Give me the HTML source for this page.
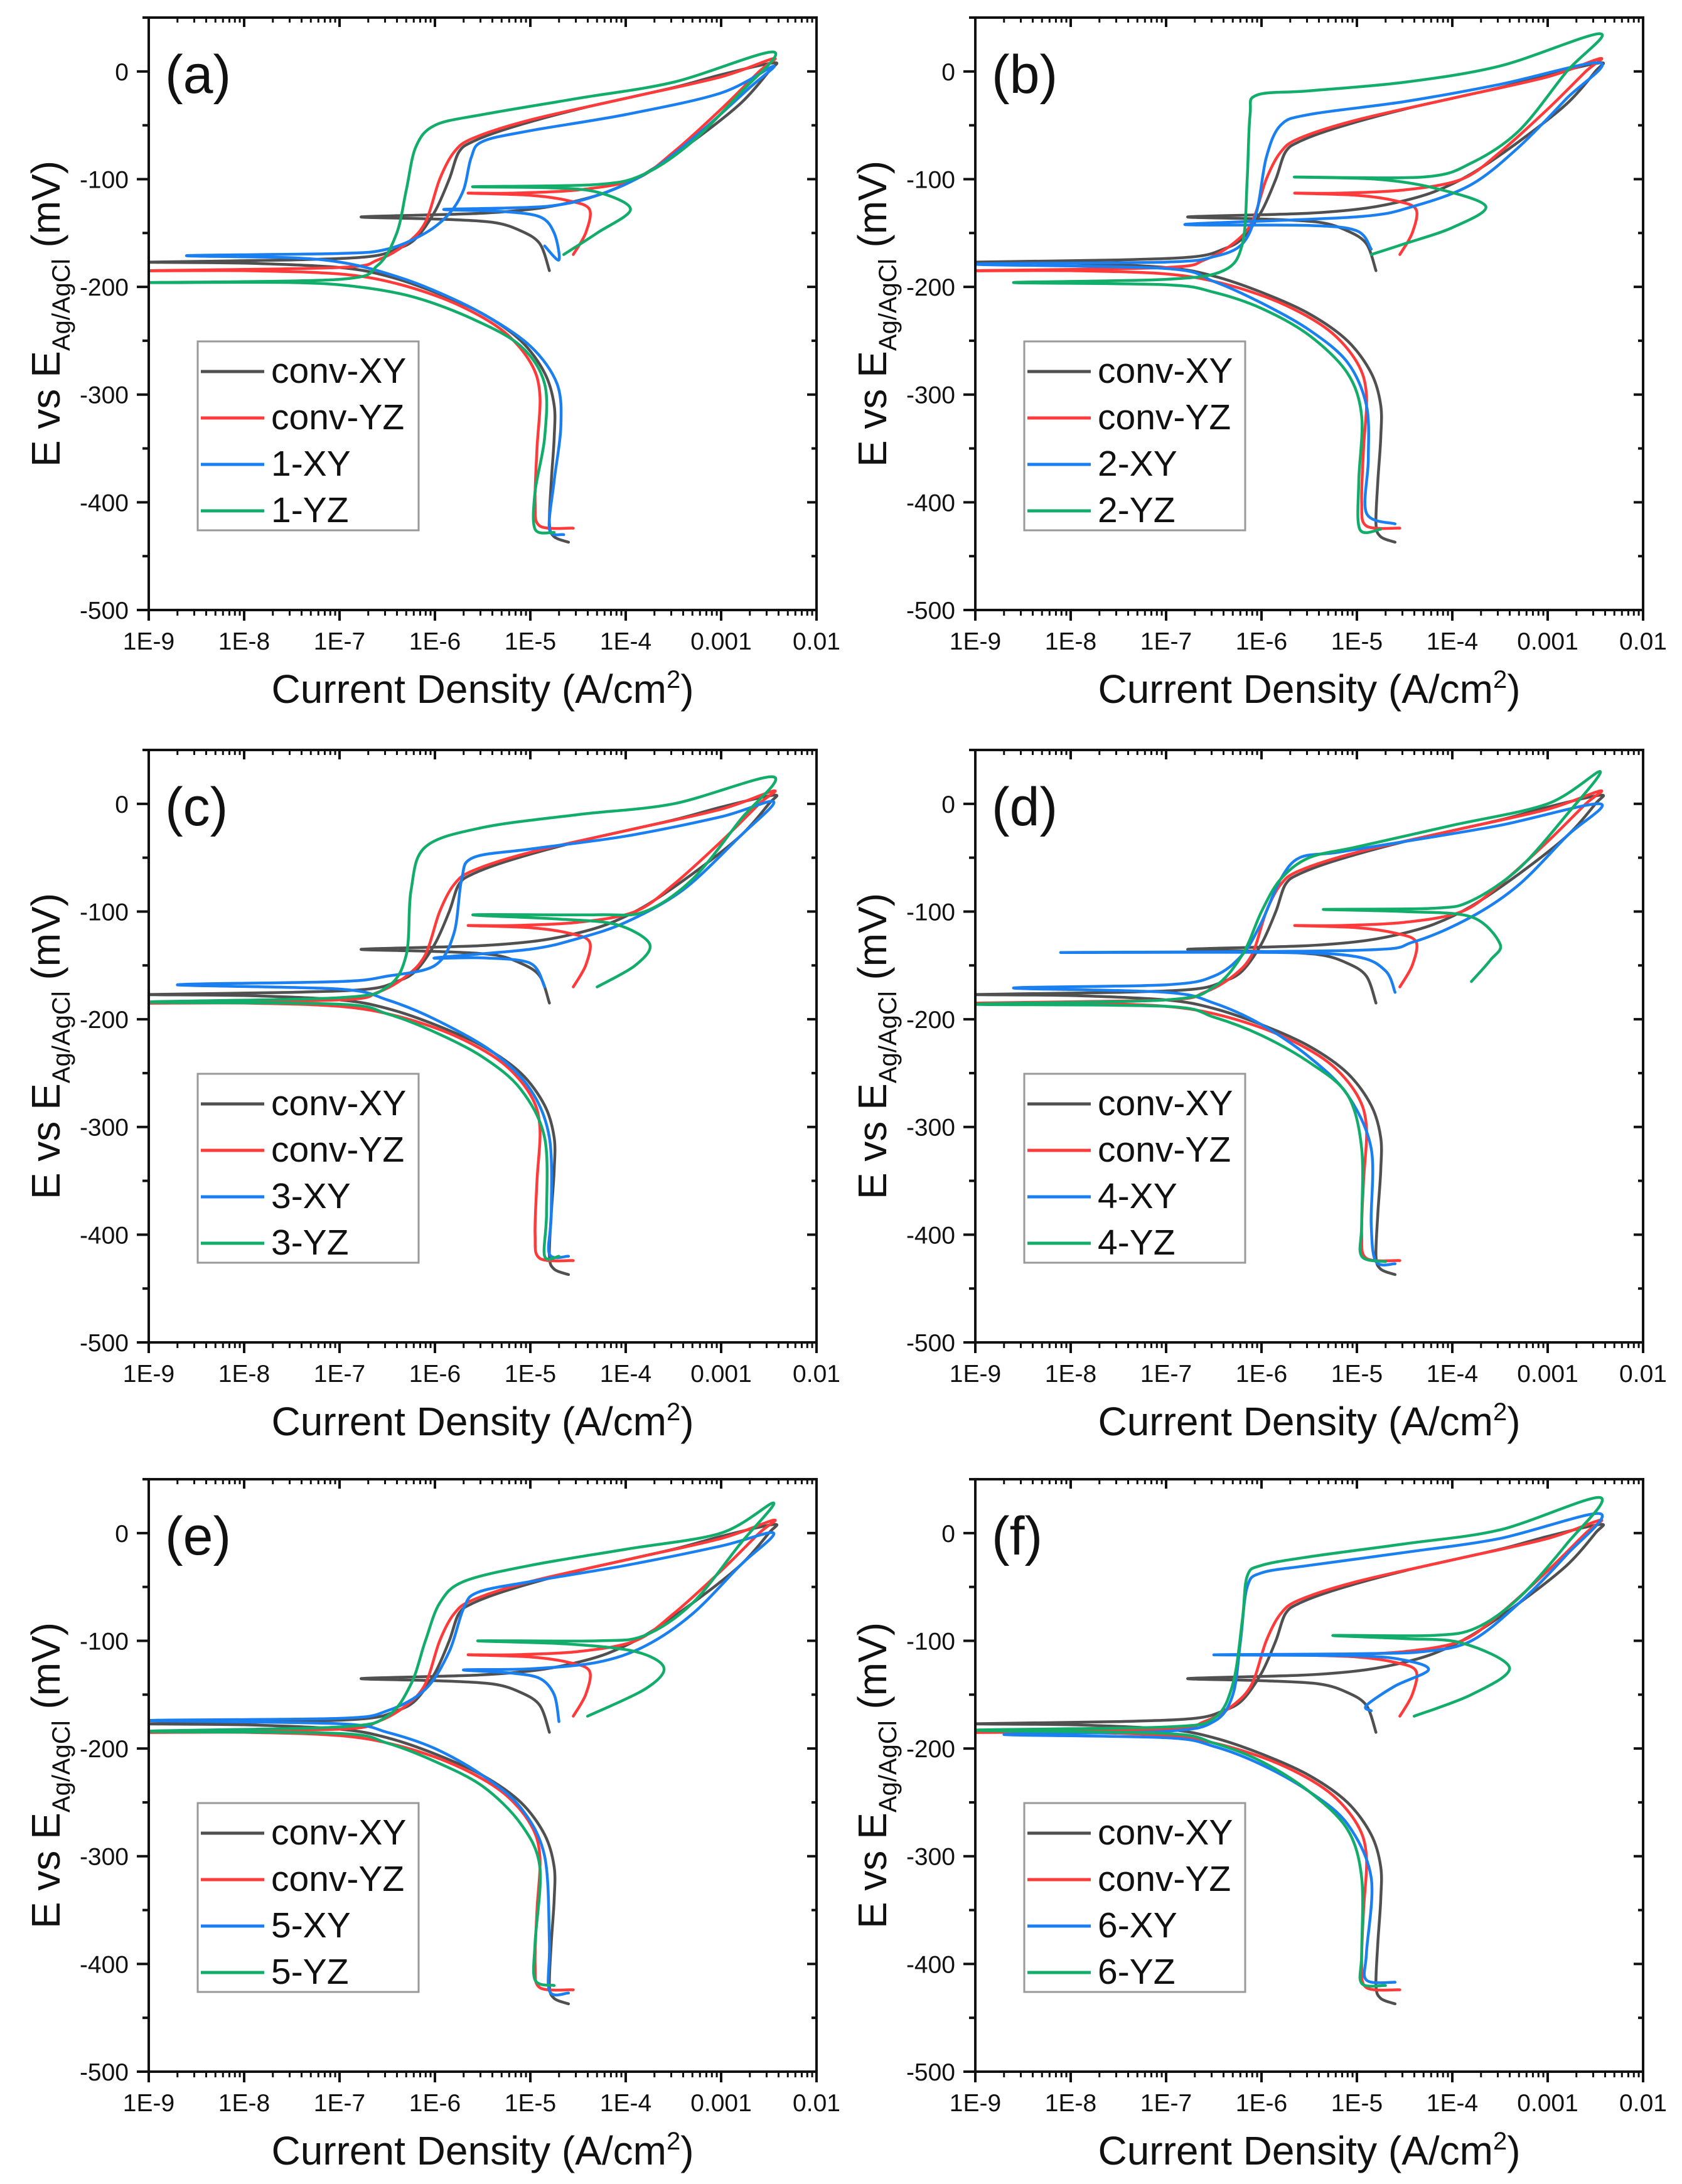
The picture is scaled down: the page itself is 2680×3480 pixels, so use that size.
<!DOCTYPE html>
<html><head><meta charset="utf-8"><style>
html,body{margin:0;padding:0;background:#fff}
svg{display:block}
text{font-family:"Liberation Sans",Arial,sans-serif;fill:#111}
</style></head><body>
<svg id="fig" xmlns="http://www.w3.org/2000/svg" width="2680" height="3480" viewBox="0 0 2680 3480"></svg>
<script>
// ---- shared data (log10 current density [A/cm2], potential [mV]) ----
const xTickLabels = ["1E-9","1E-8","1E-7","1E-6","1E-5","1E-4","0.001","0.01"];
const yTickValues = [0,-100,-200,-300,-400,-500];
const panelLetters = ["a","b","c","d","e","f"];
const convXY = [[-4.6,-437],[-4.75,-432],[-4.8,-420],[-4.78,-380],[-4.75,-340],[-4.75,-310],[-4.85,-280],[-5.1,-250],[-5.5,-225],[-6,-205],[-6.5,-190],[-7,-182],[-8,-178],[-9,-177],
 [-7.5,-175],[-6.7,-172],[-6.4,-165],[-6.2,-155],[-6.0,-130],[-5.85,-100],[-5.75,-75],[-5.6,-65],[-5.2,-52],[-4.5,-35],[-3.5,-15],[-3,-3],[-2.45,8],
 [-2.5,0],[-2.8,-30],[-3.3,-65],[-3.8,-95],[-4.2,-112],[-4.6,-122],[-5,-128],[-5.6,-132],[-6.77,-135],[-6.0,-137],[-5.4,-140],[-5.1,-148],[-4.9,-160],[-4.8,-185]];
const convYZ = [[-4.55,-424],[-4.9,-422],[-4.95,-400],[-4.93,-350],[-4.9,-300],[-5.0,-270],[-5.3,-240],[-5.8,-215],[-6.4,-197],[-7,-188],[-8,-185],[-9,-185],
 [-7,-182],[-6.6,-175],[-6.3,-160],[-6.1,-140],[-5.95,-100],[-5.8,-75],[-5.6,-62],[-5,-45],[-4,-25],[-3,-5],[-2.45,12],
 [-2.6,0],[-3,-35],[-3.5,-75],[-3.9,-100],[-4.5,-110],[-5.2,-113],[-5.65,-113],[-5.0,-115],[-4.6,-120],[-4.38,-128],[-4.42,-150],[-4.55,-170]];
// panel-specific series
const s1XY = [[-4.65,-430],[-4.8,-425],[-4.75,-380],[-4.68,-330],[-4.72,-290],[-5.0,-255],[-5.5,-225],[-6.1,-200],[-6.6,-185],[-7,-177],[-7.5,-173],[-8.6,-171],
 [-7,-169],[-6.5,-165],[-6.1,-150],[-5.85,-132],[-5.7,-110],[-5.62,-80],[-5.5,-65],[-5,-55],[-4,-40],[-3,-20],[-2.45,5],
 [-2.7,-15],[-3.2,-55],[-3.7,-90],[-4.2,-112],[-4.8,-125],[-5.9,-128],[-5.3,-130],[-4.9,-135],[-4.75,-150],[-4.7,-175],[-4.85,-162]];
const s1YZ = [[-4.75,-428],[-4.95,-425],[-4.95,-390],[-4.85,-340],[-4.85,-290],[-5.1,-255],[-5.6,-230],[-6.2,-210],[-6.8,-200],[-7.5,-196],[-9,-196],
 [-7,-193],[-6.6,-180],[-6.4,-150],[-6.3,-110],[-6.2,-70],[-6.0,-50],[-5.5,-40],[-4.5,-25],[-3.5,-10],[-2.45,18],
 [-2.8,-20],[-3.3,-65],[-3.8,-95],[-4.3,-105],[-5.6,-107],[-4.8,-108],[-4.3,-112],[-3.95,-128],[-4.3,-150],[-4.65,-170]];
const s2XY = [[-4.6,-420],[-4.9,-410],[-4.88,-360],[-4.9,-310],[-5.1,-270],[-5.5,-240],[-6,-215],[-6.5,-195],[-7,-183],[-9,-179],
 [-7,-177],[-6.5,-172],[-6.2,-160],[-6.05,-130],[-5.95,-80],[-5.8,-50],[-5.5,-40],[-4.5,-28],[-3.5,-12],[-2.45,8],
 [-2.8,-25],[-3.3,-70],[-3.8,-105],[-4.4,-125],[-5,-135],[-6.8,-142],[-5.5,-143],[-5,-148],[-4.85,-165]];
const s2YZ = [[-4.75,-425],[-4.97,-425],[-4.98,-380],[-4.95,-320],[-5.1,-280],[-5.5,-245],[-6,-220],[-6.5,-205],[-7,-198],[-8.6,-196],
 [-7,-193],[-6.4,-185],[-6.2,-160],[-6.15,-100],[-6.12,-40],[-6.05,-22],[-5.5,-18],[-4.5,-10],[-3.5,5],[-2.45,35],
 [-2.8,0],[-3.3,-55],[-3.8,-85],[-4.3,-98],[-5.65,-98],[-4.8,-100],[-4.2,-108],[-3.65,-125],[-4.0,-145],[-4.5,-160],[-4.85,-170]];
const s3XY = [[-4.6,-420],[-4.8,-418],[-4.78,-380],[-4.8,-310],[-5,-265],[-5.4,-230],[-6,-200],[-6.5,-182],[-7,-172],[-8.7,-168],
 [-7,-165],[-6.5,-160],[-6,-150],[-5.8,-120],[-5.72,-70],[-5.6,-50],[-5,-42],[-4,-30],[-3,-12],[-2.45,2],
 [-2.8,-30],[-3.4,-80],[-4,-110],[-4.5,-125],[-5,-135],[-6.0,-143],[-5.5,-143],[-5.0,-148],[-4.85,-170]];
const s3YZ = [[-4.7,-420],[-4.85,-420],[-4.83,-380],[-4.85,-310],[-5.1,-265],[-5.5,-235],[-6,-212],[-6.5,-195],[-7,-186],[-9,-184],
 [-7,-180],[-6.5,-170],[-6.3,-140],[-6.25,-80],[-6.1,-40],[-5.5,-22],[-4.5,-10],[-3.5,0],[-2.45,25],
 [-2.8,-15],[-3.3,-70],[-3.8,-100],[-4.3,-103],[-5.6,-103],[-4.7,-107],[-4.1,-112],[-3.75,-130],[-3.9,-150],[-4.3,-170]];
const s4XY = [[-4.6,-427],[-4.8,-425],[-4.85,-390],[-4.85,-320],[-5.1,-270],[-5.5,-235],[-6,-205],[-6.5,-185],[-7,-175],[-8.6,-171],
 [-7,-168],[-6.5,-160],[-6.2,-140],[-6.0,-110],[-5.8,-70],[-5.6,-50],[-5.2,-45],[-4.5,-35],[-3.5,-20],[-2.45,0],
 [-2.8,-30],[-3.3,-75],[-3.8,-105],[-4.4,-128],[-5,-136],[-8.1,-138],[-5.8,-138],[-5,-142],[-4.7,-155],[-4.6,-175]];
const s4YZ = [[-4.7,-425],[-4.95,-420],[-4.95,-390],[-4.95,-320],[-5.1,-270],[-5.5,-240],[-6,-215],[-6.5,-198],[-7,-188],[-9,-186],
 [-7,-182],[-6.5,-170],[-6.2,-140],[-6.0,-100],[-5.8,-70],[-5.5,-50],[-5,-40],[-4,-20],[-3,0],[-2.45,30],
 [-2.8,-10],[-3.3,-60],[-3.8,-90],[-4.2,-97],[-5.35,-98],[-4.5,-100],[-3.8,-105],[-3.5,-130],[-3.6,-145],[-3.8,-165]];
const s5XY = [[-4.6,-427],[-4.8,-425],[-4.8,-380],[-4.85,-300],[-5.1,-255],[-5.5,-225],[-6,-200],[-6.5,-185],[-7,-177],[-9,-174],
 [-7,-172],[-6.5,-165],[-6.1,-145],[-5.85,-110],[-5.7,-70],[-5.55,-55],[-5,-45],[-4,-30],[-3,-12],[-2.45,0],
 [-2.8,-30],[-3.3,-75],[-3.8,-105],[-4.3,-120],[-5,-126],[-5.7,-127],[-5.2,-130],[-4.9,-135],[-4.75,-150],[-4.7,-175]];
const s5YZ = [[-4.75,-420],[-4.95,-415],[-4.95,-380],[-4.9,-310],[-5.1,-270],[-5.5,-235],[-6,-212],[-6.5,-195],[-7,-186],[-9,-184],
 [-7,-180],[-6.5,-170],[-6.25,-140],[-6.1,-100],[-5.95,-65],[-5.7,-45],[-5,-30],[-4,-15],[-3,0],[-2.45,28],
 [-2.8,-10],[-3.3,-65],[-3.8,-95],[-4.3,-100],[-5.55,-100],[-4.6,-103],[-3.9,-110],[-3.6,-125],[-3.8,-145],[-4.4,-170]];
const s6XY = [[-4.6,-417],[-4.9,-415],[-4.9,-390],[-4.85,-320],[-5.1,-270],[-5.5,-240],[-6,-215],[-6.5,-198],[-7,-190],[-8.7,-187],
 [-7,-184],[-6.5,-175],[-6.3,-150],[-6.22,-100],[-6.15,-50],[-6.0,-37],[-5.5,-30],[-4.5,-18],[-3.5,-5],[-2.45,18],
 [-2.8,-20],[-3.3,-65],[-3.8,-100],[-4.3,-110],[-5,-112],[-6.5,-113],[-5,-114],[-4.5,-118],[-4.25,-127],[-4.6,-142],[-4.9,-160],[-4.85,-165]];
const s6YZ = [[-4.7,-420],[-4.95,-418],[-4.95,-390],[-4.95,-320],[-5.1,-275],[-5.5,-240],[-6,-212],[-6.5,-195],[-7,-186],[-9,-183],
 [-7,-180],[-6.5,-172],[-6.3,-140],[-6.2,-80],[-6.15,-40],[-6.0,-30],[-5.5,-22],[-4.5,-10],[-3.5,3],[-2.45,33],
 [-2.8,-10],[-3.3,-60],[-3.75,-88],[-4.2,-95],[-5.25,-95],[-4.5,-98],[-3.9,-102],[-3.4,-125],[-3.8,-150],[-4.4,-170]];
const panelXY = [s1XY,s2XY,s3XY,s4XY,s5XY,s6XY];
const panelYZ = [s1YZ,s2YZ,s3YZ,s4YZ,s5YZ,s6YZ];

const NS="http://www.w3.org/2000/svg";
const svg=document.getElementById('fig');
function mk(tag,attrs,parent){const e=document.createElementNS(NS,tag);for(const k in attrs)e.setAttribute(k,attrs[k]);(parent||svg).appendChild(e);return e;}
const colors={gray:"#505050",red:"#ff3a3a",blue:"#1a7ff0",green:"#12ad6a"};
const W=1064,H=944,XMIN=-9,XMAX=-2,YMIN=-500,YMAX=50;
const lefts=[237,1554],tops=[28,1195,2357];

function smoothPath(pts){
  if(pts.length<2)return"";
  let d="M"+pts[0][0].toFixed(1)+","+pts[0][1].toFixed(1);
  for(let i=0;i<pts.length-1;i++){
    const p0=pts[i-1]||pts[i],p1=pts[i],p2=pts[i+1],p3=pts[i+2]||p2;
    const t=0.16;
    const c1=[p1[0]+(p2[0]-p0[0])*t,p1[1]+(p2[1]-p0[1])*t];
    const c2=[p2[0]-(p3[0]-p1[0])*t,p2[1]-(p3[1]-p1[1])*t];
    d+="C"+c1[0].toFixed(1)+","+c1[1].toFixed(1)+" "+c2[0].toFixed(1)+","+c2[1].toFixed(1)+" "+p2[0].toFixed(1)+","+p2[1].toFixed(1);
  }
  return d;
}

for(let p=0;p<6;p++){
  const L=lefts[p%2],T=tops[Math.floor(p/2)];
  const xs=v=>L+(v-XMIN)/(XMAX-XMIN)*W;
  const ys=v=>T+(YMAX-v)/(YMAX-YMIN)*H;
  const g=mk('g',{});
  
  
  const cp=mk('clipPath',{id:'cp'+p},g);
  mk('rect',{x:L,y:T,width:W,height:H},cp);
  const num=p+1;
  const series=[[convXY,colors.gray,'conv-XY'],[convYZ,colors.red,'conv-YZ'],[panelXY[p],colors.blue,num+'-XY'],[panelYZ[p],colors.green,num+'-YZ']];
  const sg=mk('g',{'clip-path':'url(#cp'+p+')'},g);
  series.forEach(s=>{
    const pts=s[0].map(q=>[xs(q[0]),ys(q[1])]);
    const path=mk('path',{d:smoothPath(pts),fill:'none',stroke:s[1],'stroke-width':4.5,'stroke-linejoin':'round','stroke-linecap':'round'},sg);
    
    
  });
  const fr=mk('rect',{x:L,y:T,width:W,height:H,fill:'none',stroke:'#111','stroke-width':4},g);
  
  
  for(let dec=0;dec<=7;dec++){
    const lv=XMIN+dec, x=xs(lv);
    mk('line',{x1:x,y1:T+H,x2:x,y2:T+H+17,stroke:'#111','stroke-width':4},g);
    mk('line',{x1:x,y1:T,x2:x,y2:T+15,stroke:'#111','stroke-width':4},g);
    const tl=mk('text',{x:x,y:T+H+63,'font-size':39,'text-anchor':'middle'},g);
    tl.textContent=xTickLabels[dec];
    
    
    if(dec<7){for(let m=2;m<=9;m++){const xm=xs(lv+Math.log10(m));
      mk('line',{x1:xm,y1:T+H,x2:xm,y2:T+H+9,stroke:'#111','stroke-width':3},g);
      mk('line',{x1:xm,y1:T,x2:xm,y2:T+8,stroke:'#111','stroke-width':3},g);}}
  }
  for(let v=-500;v<=50;v+=50){
    const y=ys(v),maj=(v%100===0);
    mk('line',{x1:L-(maj?19:10),y1:y,x2:L,y2:y,stroke:'#111','stroke-width':4},g);
    mk('line',{x1:L+W,y1:y,x2:L+W-(maj?15:8),y2:y,stroke:'#111','stroke-width':4},g);
  }
  yTickValues.forEach(v=>{
    const t=mk('text',{x:L-32,y:ys(v)+14,'font-size':39,'text-anchor':'end'},g);
    t.textContent=v;
    
    
  });
  const xt=mk('text',{x:L+W/2,y:T+H+148,'font-size':64,'text-anchor':'middle'},g);
  xt.innerHTML='Current Density (A/cm<tspan dy="-24" font-size="40">2</tspan><tspan dy="24">)</tspan>';
  
  
  const cx=L-164, cy=T+H/2;
  const yt=mk('text',{x:cx,y:cy+22,'font-size':64,'text-anchor':'middle',transform:'rotate(-90 '+cx+' '+cy+')'},g);
  yt.innerHTML='E vs E<tspan dy="16" font-size="40">Ag/AgCl</tspan><tspan dy="-16"> (mV)</tspan>';
  
  
  const pl=mk('text',{x:L+26,y:T+120,'font-size':86},g);
  pl.textContent='('+panelLetters[p]+')';
  
  
  const lg=mk('g',{},g);
  
  
  mk('rect',{x:L+78,y:T+516,width:352,height:301,fill:'#fff',stroke:'#999','stroke-width':3},lg);
  series.forEach((s,i)=>{
    const y=T+560+i*74;
    mk('line',{x1:L+83,y1:y+4,x2:L+184,y2:y+4,stroke:s[1],'stroke-width':5},lg);
    const t=mk('text',{x:L+195,y:y+22,'font-size':57},lg);
    t.textContent=s[2];
    
    
  });
}
</script>
</body></html>
